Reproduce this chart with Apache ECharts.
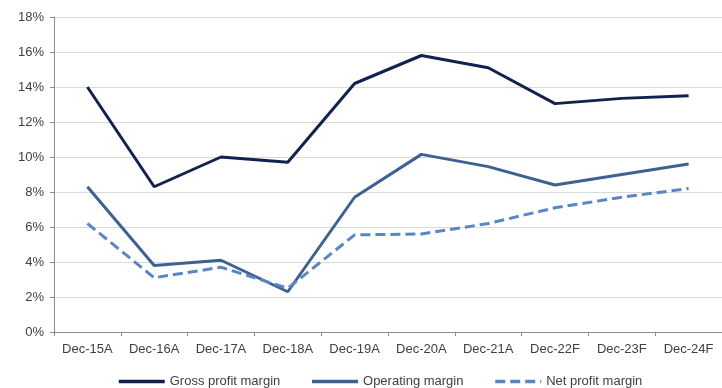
<!DOCTYPE html>
<html><head><meta charset="utf-8">
<script src="https://cdn.jsdelivr.net/npm/echarts@6/dist/echarts.min.js"></script>
<style>html,body{margin:0;padding:0;background:#fff}#c{width:722px;height:388px}</style>
</head><body><div id="c"></div>
<script>
const categories = ['Dec-15A','Dec-16A','Dec-17A','Dec-18A','Dec-19A','Dec-20A','Dec-21A','Dec-22F','Dec-23F','Dec-24F'];
const grossMargin = [14.0, 8.3, 10.0, 9.7, 14.2, 15.8, 15.1, 13.05, 13.35, 13.5];
const operatingMargin = [8.3, 3.8, 4.1, 2.3, 7.7, 10.15, 9.45, 8.4, 9.0, 9.6];
const netMargin = [6.2, 3.1, 3.7, 2.5, 5.55, 5.6, 6.2, 7.1, 7.7, 8.2];
const seriesNames = ['Gross profit margin','Operating margin','Net profit margin'];

const font = 'Liberation Sans, Arial, sans-serif';
const chart = echarts.init(document.getElementById('c'));
chart.setOption({
  animation:false,
  grid:{left:54,right:0,top:17,bottom:56},
  legend:{
    bottom:0, left:117, padding:0, itemWidth:46, itemHeight:14, itemGap:30, itemTextGap:3,
    itemStyle:{color:'rgba(0,0,0,0)',borderWidth:0,opacity:0},
    lineStyle:{width:3.5},
    textStyle:{fontFamily:font,fontSize:13,color:'#404040'},
    data:seriesNames
  },
  xAxis:{
    type:'category', data:categories, boundaryGap:true,
    axisLine:{lineStyle:{color:'#8c8c8c',width:1}},
    axisTick:{show:true,length:4,lineStyle:{color:'#8c8c8c'}},
    axisLabel:{fontFamily:font,fontSize:13,color:'#404040',margin:11}
  },
  yAxis:{
    type:'value', min:0, max:18, interval:2,
    axisLine:{show:true,lineStyle:{color:'#8c8c8c'}},
    axisTick:{show:true,length:4,inside:false,lineStyle:{color:'#8c8c8c'}},
    axisLabel:{fontFamily:font,fontSize:13,color:'#404040',formatter:v=>v+'%',margin:10},
    splitLine:{lineStyle:{color:'#d9d9d9',width:1}}
  },
  series:[
    {name:seriesNames[0],type:'line',data:grossMargin,symbol:'none',lineStyle:{color:'#12224f',width:3},itemStyle:{color:'#12224f'}},
    {name:seriesNames[1],type:'line',data:operatingMargin,symbol:'none',lineStyle:{color:'#3e6192',width:3},itemStyle:{color:'#3e6192'}},
    {name:seriesNames[2],type:'line',data:netMargin,symbol:'none',lineStyle:{color:'#5a86c6',width:3,type:[10,5]},itemStyle:{color:'#5a86c6'}}
  ]
});
</script></body></html>
